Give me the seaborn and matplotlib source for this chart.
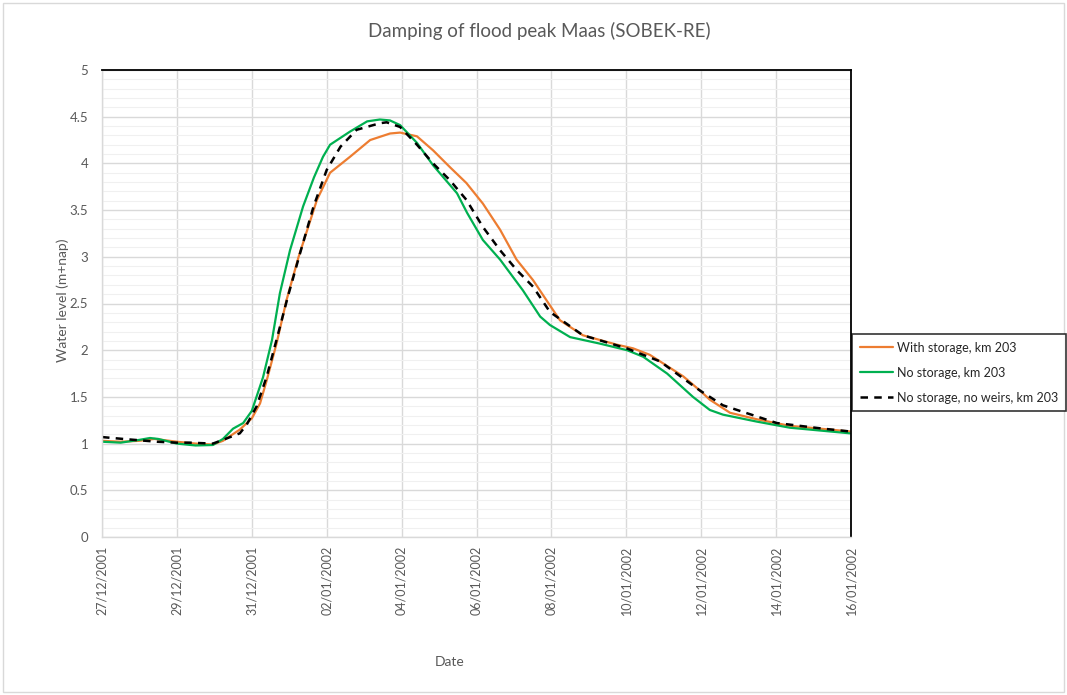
import numpy as np
import pandas as pd
import matplotlib
matplotlib.use("Agg")
from matplotlib import pyplot as plt
from matplotlib.patches import Rectangle
import matplotlib.dates as mdates
import seaborn as sns

# series, time in days after 27/12/2001 00:00
start = pd.Timestamp("2001-12-27")

days_with = [0, 0.5, 1.0, 1.4, 2.0, 2.5, 2.96, 3.23, 3.68, 4.0, 4.22, 4.4, 4.66, 4.93,
             5.25, 5.74, 6.09, 6.62, 7.16, 7.69, 7.96, 8.41, 8.84, 9.29, 9.73, 10.17,
             10.63, 11.07, 11.51, 11.96, 12.23, 12.84, 13.74, 14.18, 14.63, 15.52,
             15.96, 16.23, 16.77, 17.49, 18.37, 19.97]
level_with = [1.03, 1.02, 1.03, 1.05, 1.02, 1.0, 0.99, 1.03, 1.15, 1.27, 1.43, 1.68, 2.07, 2.54,
              3.0, 3.61, 3.90, 4.07, 4.25, 4.32, 4.33, 4.29, 4.14, 3.96, 3.79, 3.57,
              3.29, 2.97, 2.75, 2.48, 2.32, 2.16, 2.06, 2.02, 1.95, 1.72,
              1.57, 1.47, 1.33, 1.26, 1.19, 1.13]

days_none = [0, 0.5, 1.0, 1.28, 1.5, 2.0, 2.5, 2.96, 3.23, 3.5, 3.77, 4.0, 4.3, 4.54,
             4.75, 5.02, 5.37, 5.66, 5.9, 6.09, 6.62, 7.08, 7.42, 7.69, 7.96, 8.41,
             8.84, 9.48, 9.75, 10.17, 10.63, 11.24, 11.7, 11.96, 12.5, 13.3, 14.02,
             14.45, 15.09, 15.78, 16.23, 16.58, 17.49, 18.37, 19.97]
level_none = [1.02, 1.01, 1.04, 1.06, 1.05, 1.0, 0.98, 0.985, 1.05, 1.16, 1.22, 1.35, 1.71, 2.11,
              2.61, 3.07, 3.54, 3.85, 4.07, 4.20, 4.34, 4.45, 4.47, 4.46, 4.41, 4.22,
              3.98, 3.68, 3.47, 3.18, 2.97, 2.64, 2.36, 2.27, 2.14, 2.07, 2.00,
              1.93, 1.75, 1.50, 1.36, 1.31, 1.235, 1.17, 1.11]

days_noweir = [0, 0.56, 1.47, 2.0, 2.35, 2.96, 3.23, 3.68, 3.86, 4.13, 4.4, 4.66, 4.96,
               5.29, 5.65, 6.0, 6.37, 6.8, 7.42, 7.6, 7.96, 8.41, 8.84, 9.29, 9.73,
               10.17, 10.63, 11.07, 11.51, 11.96, 12.84, 14.01, 14.9, 15.96, 16.58,
               17.49, 18.02, 19.25, 19.97]
level_noweir = [1.07, 1.05, 1.02, 1.01, 1.01, 1.0, 1.04, 1.11, 1.2, 1.40, 1.72, 2.11, 2.57,
                3.04, 3.54, 3.93, 4.18, 4.36, 4.43, 4.44, 4.39, 4.20, 4.0, 3.82, 3.61,
                3.32, 3.07, 2.86, 2.68, 2.41, 2.16, 2.02, 1.88, 1.57, 1.41,
                1.29, 1.22, 1.16, 1.13]

labels = ["With storage, km 203", "No storage, km 203", "No storage, no weirs, km 203"]
colors = ["#ED7D31", "#00B050", "black"]


def to_dates(days):
    return start + pd.to_timedelta(np.array(days), unit="D")


sns.set_style("white")
plt.rcParams["font.family"] = ["Lato", "DejaVu Sans"]

fig = plt.figure(figsize=(10.67, 6.95), dpi=100)
ax = fig.add_axes([102 / 1067, 1 - 537 / 695, (851 - 102) / 1067, (537 - 70) / 695])

# chart area border
fig.patches.append(Rectangle((0.003, 0.004), 0.994, 0.991, transform=fig.transFigure,
                             fill=False, edgecolor="#d9d9d9", linewidth=1))

sns.lineplot(x=to_dates(days_with), y=level_with, ax=ax, color=colors[0],
             linewidth=1.6, label=labels[0])
sns.lineplot(x=to_dates(days_none), y=level_none, ax=ax, color=colors[1],
             linewidth=1.6, label=labels[1])
sns.lineplot(x=to_dates(days_noweir), y=level_noweir, ax=ax, color=colors[2],
             linewidth=1.8, linestyle=(0, (3, 2.5)), label=labels[2])

ax.set_xlim(start, pd.Timestamp("2002-01-16"))
ax.set_ylim(0, 5)
tick_dates = pd.date_range("2001-12-27", "2002-01-16", freq="2D")
ax.set_xticks(tick_dates)
ax.xaxis.set_major_formatter(mdates.DateFormatter("%d/%m/%Y"))
ax.set_yticks(np.arange(0, 5.01, 0.5))
ax.set_yticklabels(["0", "0.5", "1", "1.5", "2", "2.5", "3", "3.5", "4", "4.5", "5"])
ax.set_yticks(np.arange(0, 5.01, 0.1), minor=True)

ax.grid(True, which="major", color="#d9d9d9", linewidth=1)
ax.grid(True, which="minor", axis="y", color="#f0f0f0", linewidth=0.8)
ax.set_axisbelow(True)

ax.tick_params(axis="x", labelrotation=90, labelsize=9, colors="#595959", length=0, pad=6)
ax.tick_params(axis="y", labelsize=9.5, colors="#595959", length=0, pad=10)
ax.tick_params(which="minor", length=0)

for side in ["left", "bottom"]:
    ax.spines[side].set_color("#d9d9d9")
    ax.spines[side].set_linewidth(1)
for side in ["top", "right"]:
    ax.spines[side].set_color("black")
    ax.spines[side].set_linewidth(1.3)

ax.set_xlabel("")
ax.set_ylabel("")
fig.text(63 / 1067, 1 - 300 / 695, "Water level (m+nap)", rotation=90, ha="center", va="center",
         fontsize=10, color="#595959")
fig.text(450 / 1067, 1 - 662 / 695, "Date", ha="center", va="center", fontsize=10, color="#595959")
fig.text(539 / 1067, 1 - 31 / 695, "Damping of flood peak Maas (SOBEK-RE)", ha="center",
         va="center", fontsize=13.5, color="#595959")

ax.get_legend().remove()
handles, lbls = ax.get_legend_handles_labels()
leg = fig.legend(handles, lbls, loc="upper left", bbox_to_anchor=(852 / 1067, 1 - 334 / 695),
                 borderaxespad=0, fontsize=9, frameon=True, fancybox=False, edgecolor="black",
                 handlelength=2.7, handletextpad=0.3, labelspacing=1.05, borderpad=0.6)
leg.get_frame().set_linewidth(1.2)

fig.savefig("out.png", dpi=100)
